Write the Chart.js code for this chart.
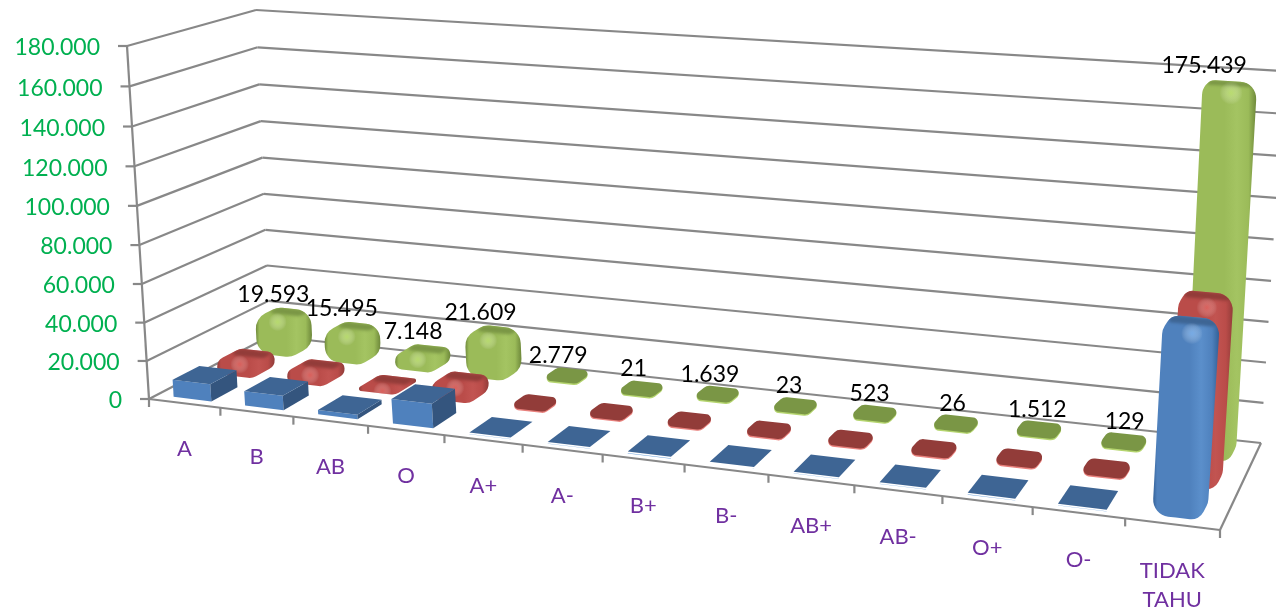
<!DOCTYPE html>
<html><head><meta charset="utf-8">
<style>html,body{margin:0;padding:0;background:#fff}canvas{display:block}</style>
<script src="https://cdn.jsdelivr.net/npm/chart.js@4"></script>
</head><body><canvas id="c" width="1276" height="615"></canvas>
<script>
const categories=["A","B","AB","O","A+","A-","B+","B-","AB+","AB-","O+","O-","TIDAK TAHU"];
const seriesBlue=[9000,7500,2300,12500,150,120,150,100,130,110,140,120,85000];
const seriesRed=[7500,6000,1800,8000,250,200,300,220,260,210,280,230,85500];
const seriesGreen=[19593,15495,7148,21609,2779,21,1639,23,523,26,1512,129,175439];

const FONT='Lato, Carlito, "Noto Sans", sans-serif';
const floorQ=quad([149,399],[1220,530],[270,336],[1261,443]);
const topQ=quad([127,46],[1250,125],[256,10],[1284,71]);
function quad(p00,p10,p01,p11){
  const dx1=[p10[0]-p11[0],p10[1]-p11[1]],dx2=[p01[0]-p11[0],p01[1]-p11[1]];
  const s=[p00[0]-p10[0]+p11[0]-p01[0],p00[1]-p10[1]+p11[1]-p01[1]];
  const det=dx1[0]*dx2[1]-dx2[0]*dx1[1];
  const g=(s[0]*dx2[1]-dx2[0]*s[1])/det,h=(dx1[0]*s[1]-s[0]*dx1[1])/det;
  const a=p10[0]-p00[0]+g*p10[0],b=p01[0]-p00[0]+h*p01[0],c=p00[0];
  const d=p10[1]-p00[1]+g*p10[1],e=p01[1]-p00[1]+h*p01[1],f=p00[1];
  return (u,v)=>{const z=g*u+h*v+1;return [(a*u+b*v+c)/z,(d*u+e*v+f)/z];};
}
function P(u,v,w){
  const uu=u+0.03*u*(1-u);
  const b=floorQ(uu,v),t=topQ(uu,v),k=w-0.034*w*(1-w);
  return [b[0]+(t[0]-b[0])*k,b[1]+(t[1]-b[1])*k];
}
function line(ctx,a,b){ctx.beginPath();ctx.moveTo(a[0],a[1]);ctx.lineTo(b[0],b[1]);ctx.stroke();}
function hull(pts){
  const p=pts.slice().sort((a,b)=>a[0]-b[0]||a[1]-b[1]);
  const cr=(o,a,b)=>(a[0]-o[0])*(b[1]-o[1])-(a[1]-o[1])*(b[0]-o[0]);
  const lo=[],up=[];
  for(const q of p){while(lo.length>1&&cr(lo[lo.length-2],lo[lo.length-1],q)<=0)lo.pop();lo.push(q);}
  for(const q of p.slice().reverse()){while(up.length>1&&cr(up[up.length-2],up[up.length-1],q)<=0)up.pop();up.push(q);}
  return lo.slice(0,-1).concat(up.slice(0,-1));
}
function roundPath(ctx,pts,r){
  const n=pts.length;ctx.beginPath();
  const m0=[(pts[n-1][0]+pts[0][0])/2,(pts[n-1][1]+pts[0][1])/2];
  ctx.moveTo(m0[0],m0[1]);
  for(let i=0;i<n;i++){
    const a=pts[i],b=pts[(i+1)%n],pr=pts[(i-1+n)%n];
    const v1=[pr[0]-a[0],pr[1]-a[1]],v2=[b[0]-a[0],b[1]-a[1]];
    const l1=Math.hypot(v1[0],v1[1]),l2=Math.hypot(v2[0],v2[1]);
    const ang=Math.acos(Math.max(-1,Math.min(1,(v1[0]*v2[0]+v1[1]*v2[1])/(l1*l2||1))));
    const maxR=0.48*Math.min(l1,l2)*Math.tan(ang/2);
    ctx.arcTo(a[0],a[1],b[0],b[1],Math.max(0,Math.min(r,maxR)));
  }
  ctx.closePath();
}
function poly(ctx,pts,fill){ctx.beginPath();pts.forEach((q,i)=>i?ctx.lineTo(q[0],q[1]):ctx.moveTo(q[0],q[1]));ctx.closePath();ctx.fillStyle=fill;ctx.fill();}

const palettes=[
 {edge:'#2F5C92',body:'#4F81BD',light:'#5B8FCB',top:'#3E6594',side:'#34557E',rim:'#6FA3DD',hi:'rgba(150,200,255,0.55)'},
 {edge:'#8E3B38',body:'#BA4C49',light:'#C25451',top:'#923C39',side:'#8E3B38',rim:'#E8807C',hi:'rgba(245,120,115,0.5)'},
 {edge:'#6A8438',body:'#9BBB59',light:'#A4C462',top:'#7A9645',side:'#6A8438',rim:'#B5D56F',hi:'rgba(205,240,130,0.55)'}
];
const depthCenter=[1/6,1/2,5/6],depthSize=0.21;

function drawBar(ctx,ua,ub,ds,w,isTall){
  const pal=palettes[ds];
  let v0=depthCenter[ds]-depthSize/2,v1=depthCenter[ds]+depthSize/2,u0=ua,u1=ub;
  const sharp=ds===0&&!isTall;
  if(!sharp){const du=(ub-ua)*0.03,dv=depthSize*0.04;u0+=du;u1-=du;v0+=dv;v1-=dv;}
  const c=P;
  const bf0=c(u0,v0,0),bf1=c(u1,v0,0),bb1=c(u1,v1,0),bb0=c(u0,v1,0);
  const tf0=c(u0,v0,w),tf1=c(u1,v0,w),tb1=c(u1,v1,w),tb0=c(u0,v1,w);
  const hpx=bf0[1]-tf0[1];
  if(sharp){
    poly(ctx,[tf0,tf1,bf1,bf0].map(q=>[q[0],q[1]+(hpx<3?1.5:0)]),hpx<3?pal.rim:pal.body);
    if(hpx>=3)poly(ctx,[tf1,tb1,bb1,bf1],pal.side);
    poly(ctx,[tf0,tf1,tb1,tb0],pal.top);
    return;
  }
  if(hpx<7&&ds===2||hpx<2){
    const f=[tf0,tf1,tb1,tb0],r=8.5;
    ctx.save();ctx.translate(0,1.4);roundPath(ctx,f,r);ctx.fillStyle=pal.rim;ctx.fill();ctx.restore();
    roundPath(ctx,f,r);ctx.fillStyle=pal.top;ctx.fill();
    return;
  }
  const h=hull([bf0,bf1,bb1,bb0,tf0,tf1,tb1,tb0]);
  const r=Math.min(17,11+hpx*0.2);
  const xs=h.map(q=>q[0]),x0=Math.min(...xs),x1=Math.max(...xs);
  const g=ctx.createLinearGradient(x0,0,x1,0);
  g.addColorStop(0,pal.edge);g.addColorStop(0.07,pal.body);g.addColorStop(0.55,pal.body);
  g.addColorStop(0.72,pal.light);g.addColorStop(0.88,pal.body);g.addColorStop(1,pal.edge);
  roundPath(ctx,h,r);ctx.fillStyle=g;ctx.fill();
  ctx.save();roundPath(ctx,h,r);ctx.clip();
  const vm=v1-(v1-v0)*0.5;
  const cap=[c(u0,vm,w),c(u1,vm,w),tb1,tb0];
  ctx.save();ctx.filter='blur(1.6px)';roundPath(ctx,cap,r*0.6);ctx.fillStyle=pal.top;ctx.fill();ctx.restore();
  const hc=c(u0+(u1-u0)*0.58,v0+(v1-v0)*0.12,w);
  const rad=Math.max(7,(x1-x0)*0.16);
  const rg=ctx.createRadialGradient(hc[0],hc[1]+3,1,hc[0],hc[1]+3,rad);
  rg.addColorStop(0,pal.hi);rg.addColorStop(1,'rgba(255,255,255,0)');
  ctx.fillStyle=rg;ctx.fillRect(hc[0]-rad,hc[1]+3-rad,rad*2,rad*2);
  ctx.restore();
}

function fmt(v){return String(v).replace(/\B(?=(\d{3})+(?!\d))/g,'.');}
const scene={
  id:'scene',
  beforeDatasetsDraw(){return false;},
  afterDraw(chart){
    const ctx=chart.ctx,a=chart.chartArea,ys=chart.scales.y,xs=chart.scales.x;
    const toW=px=>(a.bottom-px)/(a.bottom-a.top);
    const toU=px=>(px-a.left)/(a.right-a.left);
    ctx.save();ctx.lineCap='butt';ctx.strokeStyle='#888888';ctx.lineWidth=2.2;
    ys.ticks.forEach(t=>{
      const w=toW(ys.getPixelForValue(t.value));
      const fl=P(0,0,w),bl=P(0,1,w),br=P(1,1,w);
      line(ctx,fl,bl);line(ctx,bl,br);
      line(ctx,[fl[0]-9,fl[1]],fl);
    });
    line(ctx,P(0,0,0),P(0,0,1));
    line(ctx,P(0,0,0),P(1,0,0));
    line(ctx,P(1,0,0),P(1,1,0));
    const n=categories.length;
    for(let i=0;i<=n;i++){
      const q=P(i/n,0,0);line(ctx,q,[q[0],q[1]+8]);
    }
    for(let ds=2;ds>=0;ds--){
      chart.getDatasetMeta(ds).data.forEach((b,i)=>{
        drawBar(ctx,toU(b.x-b.width/2),toU(b.x+b.width/2),ds,toW(b.y),i===n-1);
      });
    }
    ctx.textAlign='center';ctx.textBaseline='middle';
    ctx.fillStyle='#000';ctx.font='23px '+FONT;
    chart.getDatasetMeta(2).data.forEach((b,i)=>{
      const u=toU(b.x),w=toW(b.y),q=P(u,5/6,w);
      ctx.fillText(fmt(seriesGreen[i]),q[0]-6+11*u-28*u*(1-u)-30*w,q[1]-20);
    });
    ctx.fillStyle='#7030A0';ctx.font='22px '+FONT;
    categories.forEach((c,i)=>{
      const u=toU(xs.getPixelForValue(i)),q=P(u,0,0);
      c.split(' ').forEach((s,k)=>ctx.fillText(s,q[0],q[1]+45+2*u+k*29));
    });
    ctx.fillStyle='#00B050';ctx.font='23px '+FONT;ctx.textAlign='right';
    ys.ticks.forEach(t=>{
      const q=P(0,0,toW(ys.getPixelForValue(t.value)));
      ctx.fillText(fmt(t.value),q[0]-27,q[1]+2);
    });
    ctx.restore();
  }
};

new Chart(document.getElementById('c'),{
  type:'bar',
  data:{labels:categories,datasets:[
    {label:'Seri 1',data:seriesBlue,backgroundColor:'#4F81BD'},
    {label:'Seri 2',data:seriesRed,backgroundColor:'#C0504D'},
    {label:'Seri 3',data:seriesGreen,backgroundColor:'#9BBB59'}
  ]},
  options:{
    responsive:false,animation:false,devicePixelRatio:1,
    layout:{padding:{left:149,right:56,top:46,bottom:216}},
    datasets:{bar:{grouped:false,categoryPercentage:1,barPercentage:0.53}},
    plugins:{legend:{display:false},tooltip:{enabled:false}},
    scales:{
      x:{display:false,type:'category',offset:true},
      y:{display:false,min:0,max:180000,ticks:{stepSize:20000,callback:fmt}}
    }
  },
  plugins:[scene]
});
</script></body></html>
